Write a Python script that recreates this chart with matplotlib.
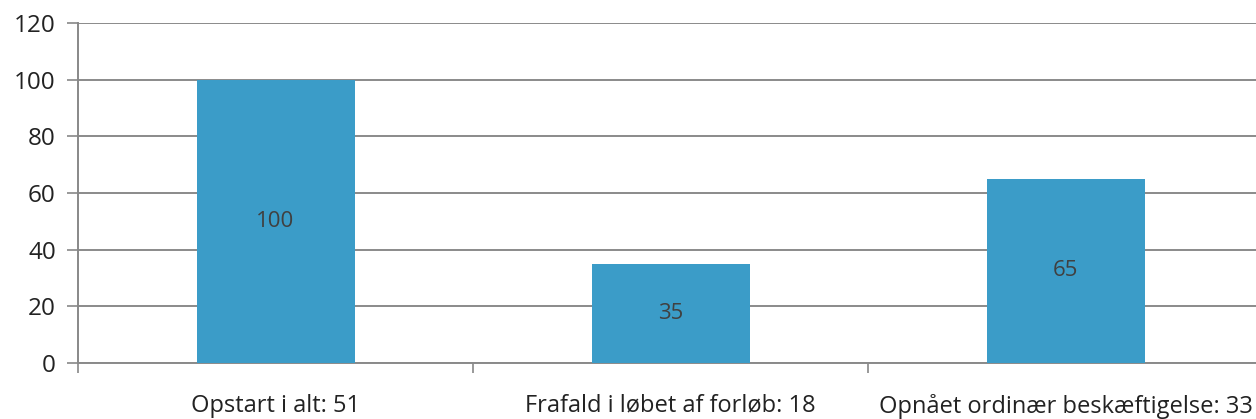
import matplotlib.pyplot as plt

categories = ['Opstart i alt: 51', 'Frafald i løbet af forløb: 18', 'Opnået ordinær beskæftigelse: 33']
values = [100, 35, 65]
yticks = [0, 20, 40, 60, 80, 100, 120]

plt.rcParams['font.family'] = ['Open Sans', 'DejaVu Sans']

fig = plt.figure(figsize=(12.56, 4.19), dpi=100)
# axis runs a little past the right edge, like the cropped scan
ax = fig.add_axes([78 / 1256, 56 / 419, 1185 / 1256, 340 / 419])

pos = range(len(categories))
bars = ax.bar(pos, values, width=0.4, color='#3b9cc8', zorder=3)
ax.bar_label(bars, labels=[str(v) for v in values], label_type='center',
             fontsize=16, color='#404040')

ax.set_xlim(-0.5, 2.5)
ax.set_ylim(0, 120)
ax.set_yticks(yticks)
ax.tick_params(axis='y', labelsize=17.5, length=8, color='#888888', width=1.2,
               labelcolor='#222222', pad=8)
ax.yaxis.grid(True, color='#8a8a8a', linewidth=1.4, zorder=0)

# category labels between boundary ticks
ax.set_xticks([-0.5, 0.5, 1.5, 2.5])
ax.set_xticklabels([])
ax.tick_params(axis='x', length=7, color='#888888', width=1.2)
ax.set_xticks(list(pos), minor=True)
ax.set_xticklabels(categories, minor=True)
ax.tick_params(axis='x', which='minor', length=0, labelsize=17,
               labelcolor='#222222', pad=22)

for side in ['top', 'right']:
    ax.spines[side].set_visible(False)
ax.spines['left'].set_color('#888888')
ax.spines['left'].set_linewidth(1.4)
ax.spines['bottom'].set_color('#8a8a8a')
ax.spines['bottom'].set_linewidth(1.4)

fig.savefig('out.png', dpi=100)
